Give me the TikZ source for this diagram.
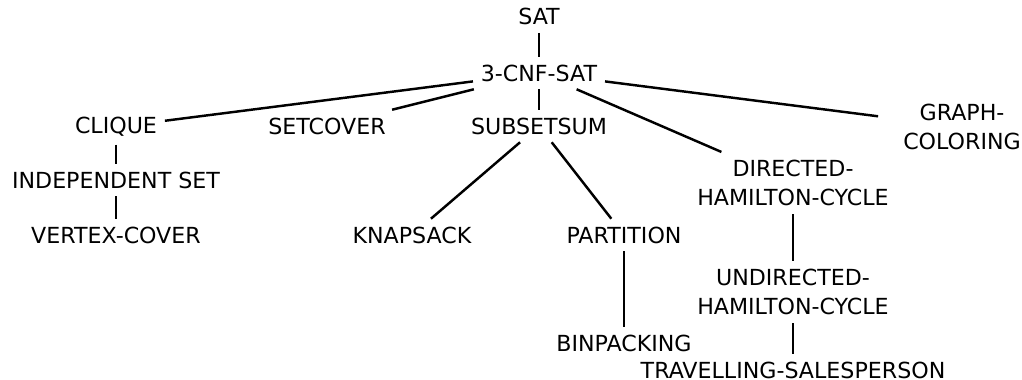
\documentclass[tikz,border=0pt]{standalone}
\usepackage{fontspec}
\setmainfont{DejaVu Sans}
\usepackage{tkz-graph}

\tikzset{
  VertexStyle/.style={shape=rectangle, draw=none, inner sep=4.5pt,
    align=center, font=\fontsize{12.6}{16.8}\selectfont},
  EdgeStyle/.style={draw, line width=1.4pt}
}

\begin{document}
\begin{tikzpicture}
        \useasboundingbox (0,0) rectangle (20.44,-7.6);

        \Vertex[L=SAT,x=10.78,y=-0.33]{sat}
        \Vertex[L=3-CNF-SAT,x=10.78,y=-1.46]{cnf}
        \Vertex[L=CLIQUE,x=2.32,y=-2.54]{clique}
        \Vertex[L=SETCOVER,x=6.54,y=-2.52]{setcover}
        \Vertex[L=SUBSETSUM,x=10.78,y=-2.52]{subsetsum}
        \Vertex[L={GRAPH-\\COLORING},x=19.24,y=-2.54,style={text width=3.04cm}]{coloring}
        \Vertex[L={DIRECTED-\\HAMILTON-CYCLE},x=15.86,y=-3.66]{dham}
        \Vertex[L=INDEPENDENT SET,x=2.32,y=-3.60]{indset}
        \Vertex[L=VERTEX-COVER,x=2.32,y=-4.70]{vcover}
        \Vertex[L=KNAPSACK,x=8.24,y=-4.70]{knapsack}
        \Vertex[L=PARTITION,x=12.48,y=-4.70]{partition}
        \Vertex[L={UNDIRECTED-\\HAMILTON-CYCLE},x=15.86,y=-5.84]{uham}
        \Vertex[L=BINPACKING,x=12.48,y=-6.87]{binpacking}
        \Vertex[L=TRAVELLING-SALESPERSON,x=15.86,y=-7.40]{tsp}

        \Edge[](sat)(cnf)
        \Edge[](cnf)(clique)
        \Edge[](cnf)(setcover)
        \Edge[](cnf)(subsetsum)
        \Edge[](cnf)(dham)
        \Edge[](cnf)(coloring)
        \Edge[](clique)(indset)
        \Edge[](indset)(vcover)
        \Edge[](subsetsum)(knapsack)
        \Edge[](subsetsum)(partition)
        \Edge[](partition)(binpacking)
        \Edge[](dham)(uham)
        \Edge[](uham)(tsp)

        \end{tikzpicture}
\end{document}
